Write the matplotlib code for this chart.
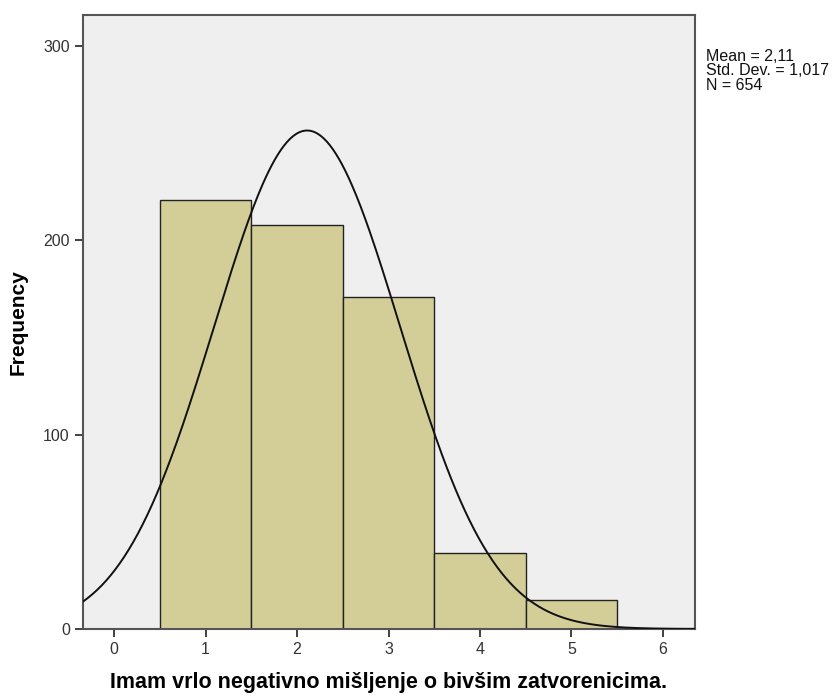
import numpy as np
import matplotlib
matplotlib.use("Agg")
import matplotlib.pyplot as plt

categories = [1, 2, 3, 4, 5]
frequencies = [221, 208, 171, 39, 15]
mean_val = 2.11
std_val = 1.017
n_val = 654
x_ticks = [0, 1, 2, 3, 4, 5, 6]
y_ticks = [0, 100, 200, 300]

plt.rcParams['font.family'] = ['Liberation Sans', 'DejaVu Sans']

fig = plt.figure(figsize=(8.34, 6.98), dpi=100)
ax = fig.add_axes([0.0995, 0.0989, 0.7338, 0.8796])
ax.set_facecolor('#efefef')

ax.bar(categories, frequencies, width=1.0, color='#d3ce98', edgecolor='#222222',
       linewidth=1.0, zorder=2)

xs = np.linspace(-0.34, 6.35, 400)
pdf = n_val * np.exp(-0.5 * ((xs - mean_val) / std_val) ** 2) / (std_val * np.sqrt(2 * np.pi))
ax.plot(xs, pdf, color='#111111', linewidth=1.4, zorder=3)

ax.set_xlim(-0.34, 6.35)
ax.set_ylim(0, 316)
ax.set_xticks(x_ticks)
ax.set_yticks(y_ticks)
ax.tick_params(axis='both', direction='out', length=6, width=1.3, color='#333333',
               labelsize=11.5, labelcolor='#333333')
for sp in ax.spines.values():
    sp.set_color('#555555')
    sp.set_linewidth(1.5)

ax.set_ylabel('Frequency', fontsize=15, fontweight='bold', labelpad=11)
ax.set_xlabel('Imam vrlo negativno mišljenje o bivšim zatvorenicima.', fontsize=15.5,
              fontweight='bold', labelpad=11)

fig.text(0.846, 0.93, 'Mean = 2,11\nStd. Dev. = 1,017\nN = 654', fontsize=11.5,
         va='top', ha='left', linespacing=0.95, color='#111111')

fig.savefig('out.png', dpi=100)
